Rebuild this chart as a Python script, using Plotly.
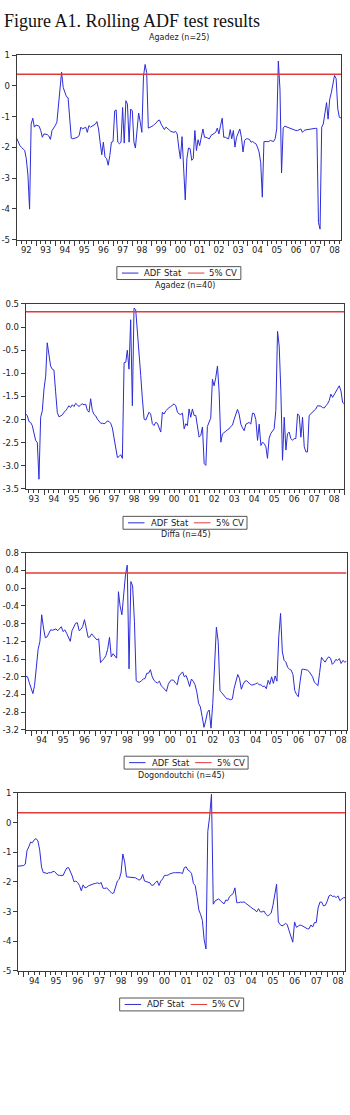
import plotly.graph_objects as go
import pandas as pd

# ---------------- data ----------------
panel_titles = ["Agadez (n=25)", "Agadez (n=40)", "Diffa (n=45)", "Dogondoutchi (n=45)"]
series_names = ["ADF Stat", "5% CV"]
start_months = ["1992-01", "1993-02", "1993-10", "1993-10"]

adf_agadez25 = [
    -1.70, -1.85, -1.94, -2.00, -2.04, -2.10, -2.37, -2.90, -4.01, -1.24,
    -1.05, -1.34, -1.27, -1.28, -1.31, -1.45, -1.67, -1.56, -1.56, -1.58,
    -1.63, -1.74, -1.45, -1.38, -1.29, -1.18, -0.59, -0.22, 0.45, -0.05,
    -0.20, -0.35, -0.38, -1.08, -1.70, -1.72, -1.70, -1.67, -1.67, -1.60,
    -1.34, -1.40, -1.36, -1.34, -1.51, -1.29, -1.34, -1.31, -1.29, -1.24,
    -1.16, -1.40, -1.83, -2.24, -1.83, -2.31, -2.36, -2.58, -2.26, -1.83,
    -1.81, -0.81, -0.78, -1.83, -1.88, -1.83, -0.70, -1.86, -0.48, -0.59,
    -1.83, -0.75, -0.81, -1.83, -2.02, -1.29, -0.88, -1.18, -1.51, 0.32,
    0.70, 0.43, -1.37, -1.35, -1.33, -1.29, -1.24, -1.20, -1.13, -1.11,
    -1.24, -1.32, -1.42, -1.34, -1.40, -1.43, -1.48, -1.50, -1.51, -1.48,
    -1.56, -2.02, -2.37, -1.65, -2.90, -3.71, -2.37, -2.02, -2.04, -2.42,
    -2.37, -1.45, -2.10, -1.75, -1.94, -1.60, -1.40, -1.67, -1.67, -1.70,
    -1.72, -1.61, -1.58, -1.56, -1.51, -1.37, -1.56, -1.29, -1.05, -1.67,
    -1.67, -1.70, -1.72, -1.42, -1.72, -1.45, -1.99, -1.67, -1.56, -1.40,
    -1.67, -2.15, -1.77, -1.72, -1.72, -1.74, -1.83, -1.81, -1.85, -1.88,
    -1.99, -2.15, -2.50, -3.62, -1.81, -1.81, -1.80, -1.81, -1.77, -1.79,
    -1.81, -1.72, -1.40, 0.81, -0.11, -2.83, -1.37, -1.31, -1.33, -1.34,
    -1.38, -1.40, -1.42, -1.44, -1.45, -1.45, -1.43, -1.40, -1.51, -1.45,
    -1.43, -1.42, -1.40, -1.40, -1.39, -1.38, -1.38, -1.38, -4.45, -4.66,
    -1.34, -1.24, -0.90, -0.54, -1.08, -0.43, -0.22, 0.11, 0.34, 0.24,
    -0.75, -1.02, -1.04,
]

adf_agadez40 = [
    -1.88, -1.91, -2.04, -2.06, -2.13, -2.27, -2.45, -2.50, -3.29, -1.95,
    -1.81, -1.34, -1.06, -0.34, -0.59, -0.84, -0.91, -0.93, -1.40, -1.85,
    -1.94, -1.92, -1.90, -1.84, -1.81, -1.76, -1.70, -1.74, -1.68, -1.72,
    -1.65, -1.68, -1.72, -1.68, -1.66, -1.68, -1.67, -1.80, -1.84, -1.55,
    -1.80, -1.89, -1.92, -1.99, -2.04, -2.08, -2.08, -2.09, -2.07, -2.03,
    -2.04, -2.08, -2.18, -2.40, -2.62, -2.82, -2.80, -2.76, -2.84, -0.77,
    -0.76, -0.50, -0.91, 0.16, -1.70, 0.41, 0.38, -0.06, -0.62, -1.05,
    -1.55, -1.99, -2.01, -1.91, -1.84, -1.88, -2.09, -2.13, -2.06, -2.08,
    -2.16, -2.27, -1.84, -1.88, -1.81, -1.77, -1.74, -1.72, -1.68, -1.66,
    -1.70, -1.84, -1.88, -1.89, -1.86, -2.20, -2.09, -2.13, -1.77, -1.95,
    -1.77, -1.91, -1.91, -2.13, -2.38, -2.34, -2.16, -2.95, -2.99, -2.15,
    -2.04, -1.97, -1.13, -1.27, -1.09, -0.84, -1.40, -2.49, -2.31, -2.27,
    -2.25, -2.22, -2.20, -2.15, -2.12, -2.00, -1.90, -1.78, -1.88, -2.10,
    -2.18, -2.24, -2.10, -2.08, -2.06, -2.10, -1.86, -1.87, -2.00, -2.45,
    -2.10, -2.56, -2.49, -2.52, -2.59, -2.84, -2.40, -2.30, -2.25, -2.20,
    -1.80, -0.09, -0.41, -1.40, -2.88, -1.95, -2.66, -2.31, -2.27, -2.41,
    -2.45, -2.41, -2.41, -1.88, -1.91, -2.38, -1.95, -2.59, -2.70, -2.70,
    -1.91, -1.88, -1.84, -1.81, -1.77, -1.70, -1.70, -1.71, -1.74, -1.75,
    -1.70, -1.66, -1.59, -1.45, -1.52, -1.45, -1.38, -1.34, -1.27, -1.38,
    -1.63, -1.66,
]

adf_diffa45 = [
    -1.99, -2.00, -2.13, -2.27, -2.38, -2.20, -1.70, -1.38, -1.20, -0.60,
    -0.90, -1.12, -1.10, -1.02, -0.94, -0.95, -0.94, -0.92, -0.96, -0.92,
    -0.87, -0.98, -0.94, -1.02, -1.10, -1.20, -0.96, -0.87, -0.79, -0.78,
    -0.96, -0.93, -0.86, -0.71, -0.88, -1.11, -1.10, -1.03, -1.08, -1.14,
    -1.17, -1.14, -1.68, -1.63, -1.59, -1.52, -1.38, -1.11, -1.55, -1.48,
    -1.52, -1.58, -0.08, -0.40, -0.60, -0.20, 0.30, 0.52, -1.82, 0.15,
    0.05, -0.75, -2.09, -2.12, -2.12, -2.09, -2.05, -2.04, -1.92, -1.92,
    -1.84, -2.00, -2.08, -2.12, -2.14, -2.10, -2.20, -2.24, -2.28, -2.33,
    -2.17, -2.10, -2.07, -2.08, -2.14, -2.18, -1.98, -1.93, -1.89, -2.00,
    -1.97, -2.08, -2.22, -2.05, -2.10, -2.18, -2.34, -2.60, -2.68, -2.90,
    -3.14, -3.00, -2.80, -2.75, -3.16, -2.60, -1.75, -0.88, -1.20, -2.31,
    -2.36, -2.42, -2.46, -2.50, -2.50, -2.52, -2.50, -2.26, -2.09, -1.95,
    -2.04, -2.28, -2.17, -2.10, -2.09, -2.13, -2.17, -2.19, -2.18, -2.16,
    -2.14, -2.18, -2.18, -2.22, -2.21, -2.27, -2.08, -2.17, -2.00, -2.15,
    -1.98, -2.10, -1.10, -0.57, -1.44, -1.63, -1.67, -1.79, -1.83, -1.85,
    -1.95, -2.31, -2.40, -2.45, -2.10, -1.83, -1.83, -1.84, -1.85, -1.88,
    -1.93, -2.00, -2.12, -2.16, -2.20, -1.90, -1.56, -1.62, -1.67, -1.60,
    -1.55, -1.58, -1.72, -1.68, -1.61, -1.63, -1.59, -1.70, -1.63, -1.67,
    -1.65,
]

adf_dogondoutchi45 = [
    -1.47, -1.47, -1.46, -1.45, -1.40, -0.95, -0.82, -0.66, -0.68, -0.58,
    -0.54, -0.62, -0.92, -1.50, -1.69, -1.69, -1.72, -1.69, -1.69, -1.66,
    -1.64, -1.70, -1.77, -1.78, -1.78, -1.78, -1.64, -1.53, -1.52, -1.65,
    -1.80, -2.00, -1.97, -2.02, -2.12, -2.30, -2.10, -2.20, -2.18, -2.13,
    -2.10, -2.08, -2.06, -2.05, -2.03, -2.06, -2.02, -2.21, -2.22, -2.20,
    -2.26, -2.34, -2.39, -2.37, -2.16, -1.97, -1.91, -1.70, -1.06, -1.33,
    -1.83, -1.84, -1.84, -1.84, -1.86, -1.86, -1.90, -1.94, -1.90, -1.75,
    -1.97, -1.99, -2.02, -2.03, -2.12, -2.10, -2.02, -1.97, -2.12, -1.97,
    -1.90, -1.78, -1.78, -1.77, -1.73, -1.70, -1.69, -1.69, -1.69, -1.67,
    -1.69, -1.72, -1.52, -1.49, -1.60, -1.64, -1.72, -2.05, -2.12, -2.50,
    -2.95, -3.09, -3.30, -3.95, -4.26, -0.30, 0.20, 0.96, -2.75, -2.64,
    -2.59, -2.57, -2.64, -2.70, -2.74, -2.61, -2.63, -2.50, -2.45, -2.39,
    -2.20, -2.70, -2.70, -2.68, -2.69, -2.67, -2.72, -2.77, -2.82, -2.85,
    -2.91, -2.94, -3.01, -2.90, -3.01, -3.01, -2.98, -3.08, -3.14, -3.11,
    -3.05, -2.80, -2.40, -2.08, -3.35, -3.44, -3.48, -3.45, -3.39, -3.45,
    -3.65, -3.85, -4.03, -3.35, -3.53, -3.49, -3.45, -3.47, -3.51, -3.55,
    -3.58, -3.58, -3.45, -3.52, -3.37, -3.37, -2.88, -2.68, -2.68, -2.81,
    -2.79, -2.65, -2.47, -2.44, -2.49, -2.48, -2.53, -2.47, -2.63, -2.58,
    -2.53, -2.53,
]

adf_series = [adf_agadez25, adf_agadez40, adf_diffa45, adf_dogondoutchi45]
cv_values = [0.38, 0.33, 0.34, 0.33]

y_tickvals = [
    [-5, -4, -3, -2, -1, 0, 1],
    [-3.5, -3.0, -2.5, -2.0, -1.5, -1.0, -0.5, 0.0, 0.5],
    [-3.2, -2.8, -2.4, -2.0, -1.6, -1.2, -0.8, -0.4, 0.0, 0.4, 0.8],
    [-5, -4, -3, -2, -1, 0, 1],
]
y_ticktext = [
    ["-5", "-4", "-3", "-2", "-1", "0", "1"],
    ["-3.5", "-3.0", "-2.5", "-2.0", "-1.5", "-1.0", "-0.5", "0.0", "0.5"],
    ["-3.2", "-2.8", "-2.4", "-2.0", "-1.6", "-1.2", "-0.8", "-0.4", "0.0", "0.4", "0.8"],
    ["-5", "-4", "-3", "-2", "-1", "0", "1"],
]

main_title = "Figure A1. Rolling ADF test results"

# ---------------- layout (pixels) ----------------
W, H = 350, 1115
plot_boxes = [  # x0, x1, y_top, y_bottom
    (16.7, 341.0, 50.7, 236.7),
    (25.7, 344.3, 301.7, 488.3),
    (25.7, 346.5, 552.7, 731.5),
    (18.0, 345.3, 795.0, 974.7),
]
title_centers_y = [33, 283, 534, 777]
legend_tops = [264, 516, 758, 1002]

BLUE = "#2c2cd8"
RED = "#e23a3a"
AX = "#3a3a3a"
TXT = "#222222"
SANS = "DejaVu Sans, Arial, sans-serif"


def px(x):
    return x / W


def py(y):
    return 1 - y / H


fig = go.Figure()
shapes = []
annotations = []

for i in range(4):
    sfx = "" if i == 0 else str(i + 1)
    xa, ya = "x" + sfx, "y" + sfx
    dates = pd.date_range(start_months[i], periods=len(adf_series[i]), freq="MS")
    dstr = [d.strftime("%Y-%m-%d") for d in dates]

    fig.add_trace(go.Scatter(x=dstr, y=adf_series[i], mode="lines", name=series_names[0],
                             line=dict(color=BLUE, width=1), xaxis=xa, yaxis=ya,
                             showlegend=False, hoverinfo="skip"))
    fig.add_trace(go.Scatter(x=[dstr[0], dstr[-1]], y=[cv_values[i], cv_values[i]], mode="lines",
                             name=series_names[1], line=dict(color=RED, width=1.5),
                             xaxis=xa, yaxis=ya, showlegend=False, hoverinfo="skip"))

    x0, x1, yt, yb = plot_boxes[i]
    yv = y_tickvals[i]
    fig.layout["xaxis" + sfx] = dict(
        domain=[px(x0), px(x1)], anchor=ya, type="date",
        range=[dstr[0], dstr[-1]],
        dtick="M12", tick0="2000-01-01", tickformat="%y", ticklabelmode="period",
        ticks="outside", ticklen=5, tickwidth=1, tickcolor=AX,
        ticklabelstandoff=-3,
        showline=True, linecolor=AX, linewidth=1, mirror=True,
        showgrid=False, zeroline=False,
        minor=dict(dtick="M3", tick0="2000-01-01", ticks="outside", ticklen=3,
                   tickwidth=1, tickcolor=AX, showgrid=False),
        tickfont=dict(family=SANS, size=8.5, color=TXT),
        fixedrange=True,
    )
    fig.layout["yaxis" + sfx] = dict(
        domain=[py(yb), py(yt)], anchor=xa,
        range=[yv[0], yv[-1]], tickmode="array", tickvals=yv, ticktext=y_ticktext[i],
        ticks="outside", ticklen=4, tickwidth=1, tickcolor=AX,
        showline=True, linecolor=AX, linewidth=1, mirror=True,
        showgrid=False, zeroline=False,
        tickfont=dict(family=SANS, size=8.5, color=TXT),
        fixedrange=True,
    )

    cx = (x0 + x1) / 2
    annotations.append(dict(text=panel_titles[i], x=px(cx), y=py(title_centers_y[i]),
                            xref="paper", yref="paper", xanchor="center", yanchor="middle",
                            showarrow=False, font=dict(family=SANS, size=8, color=TXT)))

    # legend box
    bx0, bx1 = cx - 62, cx + 62
    by0 = legend_tops[i]
    by1 = by0 + 13
    ym = (by0 + by1) / 2
    shapes.append(dict(type="rect", xref="paper", yref="paper",
                       x0=px(bx0), x1=px(bx1), y0=py(by1), y1=py(by0),
                       line=dict(color="#555555", width=1), fillcolor="white"))
    shapes.append(dict(type="line", xref="paper", yref="paper",
                       x0=px(bx0 + 5), x1=px(bx0 + 21.5), y0=py(ym), y1=py(ym),
                       line=dict(color=BLUE, width=1)))
    shapes.append(dict(type="line", xref="paper", yref="paper",
                       x0=px(bx0 + 71), x1=px(bx0 + 87.5), y0=py(ym), y1=py(ym),
                       line=dict(color=RED, width=1)))
    annotations.append(dict(text=series_names[0], x=px(bx0 + 25.5), y=py(ym),
                            xref="paper", yref="paper", xanchor="left", yanchor="middle",
                            showarrow=False, font=dict(family=SANS, size=8.5, color=TXT)))
    annotations.append(dict(text=series_names[1], x=px(bx0 + 90.5), y=py(ym),
                            xref="paper", yref="paper", xanchor="left", yanchor="middle",
                            showarrow=False, font=dict(family=SANS, size=8.5, color=TXT)))

annotations.append(dict(text=main_title, x=px(2), y=py(16.5), xref="paper", yref="paper",
                        xanchor="left", yanchor="middle", showarrow=False,
                        font=dict(family="Liberation Serif, Times New Roman, serif", size=18, color="#111111")))

fig.update_layout(
    width=W, height=H, autosize=False,
    margin=dict(l=0, r=0, t=0, b=0),
    paper_bgcolor="white", plot_bgcolor="white",
    showlegend=False,
    shapes=shapes, annotations=annotations,
)

fig.write_html("out.html", config={"displayModeBar": False, "staticPlot": True})
